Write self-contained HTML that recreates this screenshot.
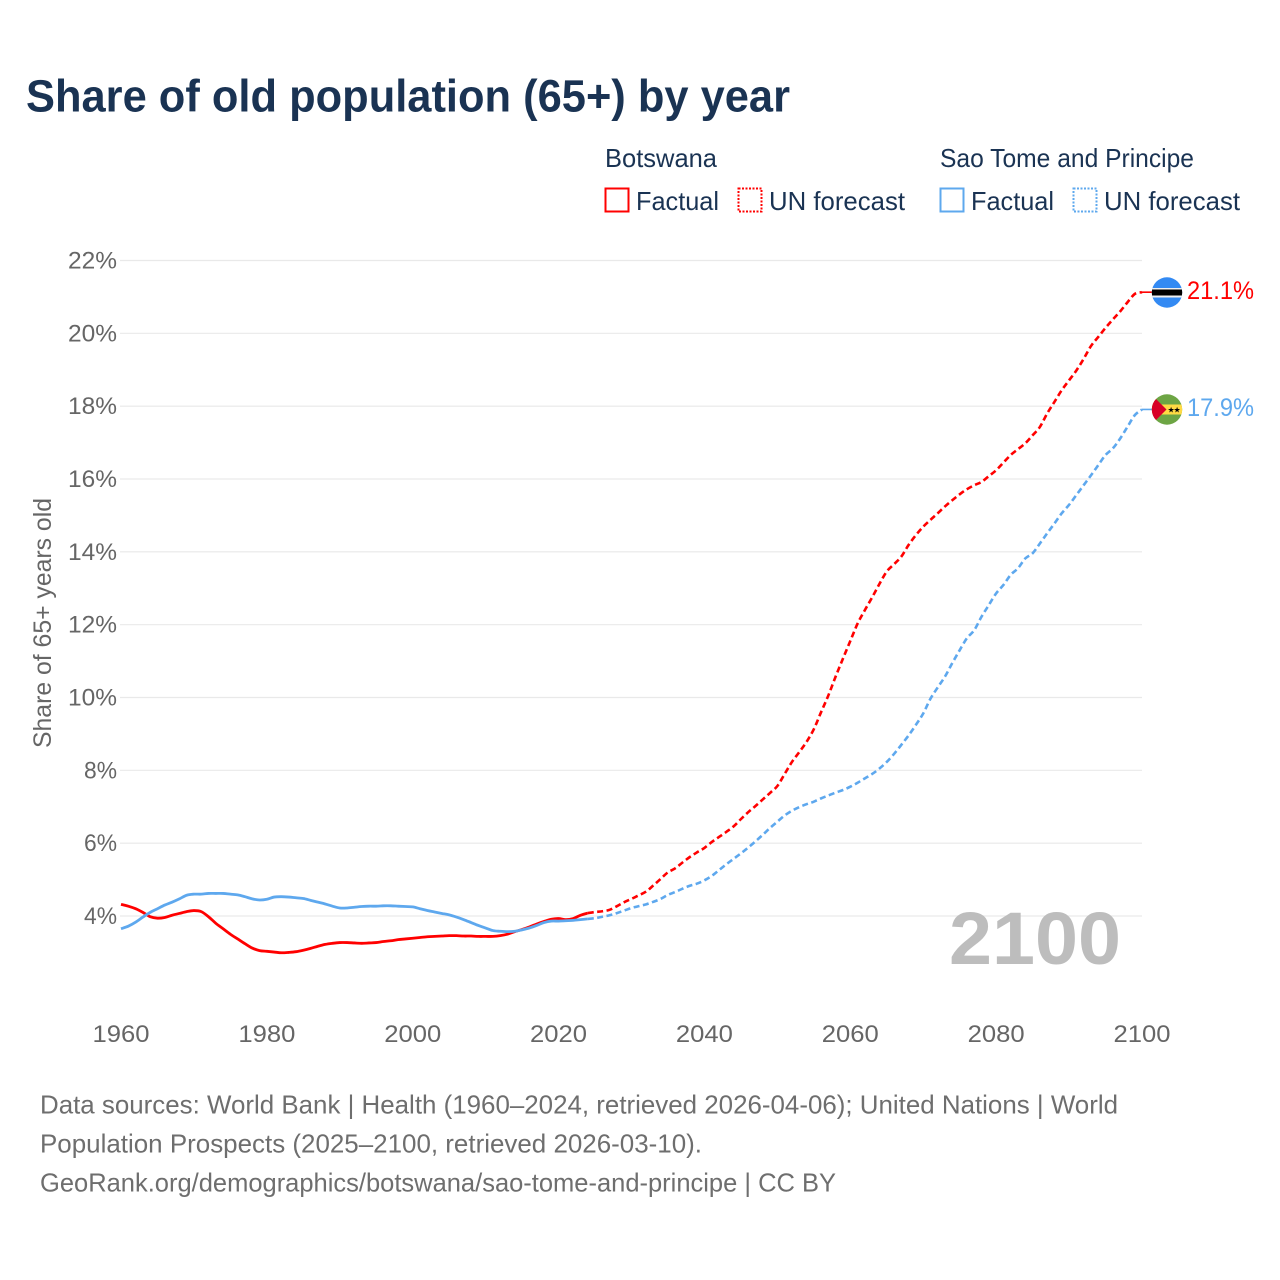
<!DOCTYPE html>
<html lang="en">
<head>
<meta charset="utf-8">
<title>Share of old population (65+) by year</title>
<style>
html,body{margin:0;padding:0;background:#fff;width:1280px;height:1280px;overflow:hidden}
svg{display:block}
text{font-family:"Liberation Sans",sans-serif}
</style>
</head>
<body>
<svg id="chart" xmlns="http://www.w3.org/2000/svg" width="1280" height="1280" viewBox="0 0 1280 1280">
  <rect width="1280" height="1280" fill="#fff"/>
  <text x="26" y="111.5" font-size="45" font-weight="700" fill="#1a3353" textLength="764" lengthAdjust="spacingAndGlyphs">Share of old population (65+) by year</text>

  <g font-size="26" fill="#1a3353">
    <text x="605" y="167" textLength="112" lengthAdjust="spacingAndGlyphs">Botswana</text>
    <text x="940" y="167" textLength="254" lengthAdjust="spacingAndGlyphs">Sao Tome and Principe</text>
    <rect x="605.5" y="188.5" width="23" height="23" fill="none" stroke="#ff0000" stroke-width="2"/>
    <text x="636" y="210" textLength="83" lengthAdjust="spacingAndGlyphs">Factual</text>
    <rect x="738.5" y="188.5" width="23" height="23" fill="none" stroke="#ff0000" stroke-width="2" stroke-dasharray="2 1.5"/>
    <text x="769" y="210" textLength="136" lengthAdjust="spacingAndGlyphs">UN forecast</text>
    <rect x="940.5" y="188.5" width="23" height="23" fill="none" stroke="#5ea8ee" stroke-width="2"/>
    <text x="971" y="210" textLength="83" lengthAdjust="spacingAndGlyphs">Factual</text>
    <rect x="1073.5" y="188.5" width="23" height="23" fill="none" stroke="#5ea8ee" stroke-width="2" stroke-dasharray="2 1.5"/>
    <text x="1104" y="210" textLength="136" lengthAdjust="spacingAndGlyphs">UN forecast</text>
  </g>

  <g id="grid"></g>
  <g id="yticks"></g>
  <g id="xticks"></g>

  <text transform="translate(51,748) rotate(-90)" font-size="25" fill="#666" textLength="250" lengthAdjust="spacingAndGlyphs">Share of 65+ years old</text>
  <text x="949" y="964" font-size="74" font-weight="700" fill="#bdbdbd" textLength="172" lengthAdjust="spacingAndGlyphs">2100</text>

  <g id="series"></g>

  <g>
    <clipPath id="clip-bw"><circle cx="1167" cy="292.5" r="15.2"/></clipPath>
    <g clip-path="url(#clip-bw)">
      <rect x="1151" y="277" width="32" height="32" fill="#338af3"/>
      <rect x="1151" y="288" width="32" height="9.5" fill="#f0f0f0"/>
      <rect x="1151" y="289.5" width="32" height="6" fill="#000"/>
    </g>
  </g>
  <g>
    <clipPath id="clip-st"><circle cx="1167" cy="409.5" r="15.2"/></clipPath>
    <g clip-path="url(#clip-st)">
      <rect x="1151" y="394" width="32" height="32" fill="#6da544"/>
      <rect x="1151" y="404.5" width="32" height="10" fill="#ffda44"/>
      <polygon points="1151,394 1151,425 1166.5,409.5" fill="#d80027"/>
      <text x="1167.5" y="412.5" font-size="8" fill="#000">★</text>
      <text x="1173.5" y="412.5" font-size="8" fill="#000">★</text>
    </g>
  </g>
  <text x="1187" y="299" font-size="25" fill="#ff0000" textLength="67" lengthAdjust="spacingAndGlyphs">21.1%</text>
  <text x="1187" y="416" font-size="25" fill="#5ea8ee" textLength="67" lengthAdjust="spacingAndGlyphs">17.9%</text>

  <g font-size="26" fill="#6e6e6e">
    <text x="40" y="1113.5" textLength="1078" lengthAdjust="spacingAndGlyphs">Data sources: World Bank | Health (1960–2024, retrieved 2026-04-06); United Nations | World</text>
    <text x="40" y="1152.5" textLength="662" lengthAdjust="spacingAndGlyphs">Population Prospects (2025–2100, retrieved 2026-03-10).</text>
    <text x="40" y="1191.5" textLength="796" lengthAdjust="spacingAndGlyphs">GeoRank.org/demographics/botswana/sao-tome-and-principe | CC BY</text>
  </g>
</svg>
<script>
const yTickValues = [4, 6, 8, 10, 12, 14, 16, 18, 20, 22];
const xTickYears = [1960, 1980, 2000, 2020, 2040, 2060, 2080, 2100];
const factualStartYear = 1960;
const forecastStartYear = 2024;
const botswanaFactual = [4.32,4.27,4.2,4.1,3.98,3.94,3.96,4.02,4.07,4.12,4.15,4.12,3.98,3.8,3.65,3.5,3.37,3.24,3.12,3.05,3.03,3.01,2.99,3,3.02,3.06,3.11,3.17,3.22,3.25,3.27,3.27,3.26,3.25,3.26,3.27,3.3,3.32,3.35,3.37,3.39,3.41,3.43,3.44,3.45,3.46,3.46,3.45,3.45,3.44,3.44,3.44,3.46,3.5,3.57,3.63,3.7,3.78,3.85,3.91,3.93,3.9,3.93,4.02,4.08];
const saoTomeFactual = [3.65,3.72,3.83,3.97,4.1,4.2,4.3,4.38,4.47,4.57,4.6,4.6,4.62,4.62,4.62,4.6,4.58,4.53,4.47,4.44,4.46,4.52,4.53,4.52,4.5,4.48,4.43,4.38,4.33,4.27,4.22,4.22,4.24,4.26,4.27,4.27,4.28,4.28,4.27,4.26,4.25,4.2,4.15,4.11,4.07,4.03,3.97,3.9,3.82,3.74,3.67,3.6,3.58,3.57,3.58,3.62,3.67,3.74,3.82,3.86,3.86,3.87,3.88,3.9,3.92];
const botswanaForecast = [4.08,4.11,4.13,4.17,4.27,4.38,4.47,4.57,4.67,4.84,5.02,5.2,5.31,5.47,5.62,5.75,5.87,6.03,6.17,6.31,6.46,6.66,6.85,7.02,7.2,7.38,7.57,7.9,8.23,8.5,8.78,9.13,9.6,10.06,10.58,11.07,11.55,12.03,12.4,12.75,13.12,13.46,13.66,13.87,14.19,14.46,14.69,14.88,15.06,15.25,15.42,15.58,15.72,15.83,15.92,16.08,16.24,16.45,16.66,16.82,16.98,17.2,17.43,17.8,18.12,18.44,18.71,18.98,19.3,19.65,19.9,20.15,20.38,20.6,20.85,21.08,21.13];
const saoTomeForecast = [3.92,3.94,3.98,4.02,4.08,4.15,4.22,4.27,4.32,4.39,4.47,4.58,4.66,4.75,4.83,4.89,4.98,5.1,5.26,5.42,5.57,5.72,5.88,6.05,6.23,6.42,6.59,6.76,6.89,6.99,7.07,7.14,7.23,7.31,7.39,7.46,7.55,7.66,7.78,7.9,8.05,8.23,8.45,8.7,8.96,9.25,9.56,9.97,10.28,10.58,10.95,11.3,11.63,11.85,12.22,12.54,12.86,13.09,13.37,13.55,13.82,13.96,14.23,14.51,14.78,15.06,15.29,15.56,15.83,16.1,16.38,16.66,16.84,17.11,17.43,17.75,17.91];

const SVG_NS = 'http://www.w3.org/2000/svg';
const xScale = yr => 121 + (yr - 1960) * (1142 - 121) / 140;
const yScale = v => 916 - (v - 4) * (916 - 260.5) / 18;

function linePath(values, startYear) {
  const pts = values.map((v, i) => [xScale(startYear + i), yScale(v)]);
  let d = 'M' + pts[0][0].toFixed(2) + ' ' + pts[0][1].toFixed(2);
  for (let i = 0; i < pts.length - 1; i++) {
    const p0 = pts[Math.max(i - 1, 0)];
    const p1 = pts[i];
    const p2 = pts[i + 1];
    const p3 = pts[Math.min(i + 2, pts.length - 1)];
    const c1x = p1[0] + (p2[0] - p0[0]) / 6;
    const c1y = p1[1] + (p2[1] - p0[1]) / 6;
    const c2x = p2[0] - (p3[0] - p1[0]) / 6;
    const c2y = p2[1] - (p3[1] - p1[1]) / 6;
    d += ' C' + c1x.toFixed(2) + ' ' + c1y.toFixed(2) + ' ' + c2x.toFixed(2) + ' ' + c2y.toFixed(2) + ' ' + p2[0].toFixed(2) + ' ' + p2[1].toFixed(2);
  }
  return d;
}

const gridG = document.getElementById('grid');
const yG = document.getElementById('yticks');
yTickValues.forEach(v => {
  const l = document.createElementNS(SVG_NS, 'line');
  
  
  l.setAttribute('x1', 120);
  l.setAttribute('x2', 1142);
  l.setAttribute('y1', yScale(v));
  l.setAttribute('y2', yScale(v));
  l.setAttribute('stroke', '#e9e9e9');
  l.setAttribute('stroke-width', 1.2);
  gridG.appendChild(l);

  const t = document.createElementNS(SVG_NS, 'text');
  
  
  t.setAttribute('x', 117);
  t.setAttribute('y', yScale(v) + 8);
  t.setAttribute('text-anchor', 'end');
  t.setAttribute('font-size', 24.5);
  t.setAttribute('fill', '#666');
  t.setAttribute('textLength', String(v).length > 1 ? 49 : 33);
  t.setAttribute('lengthAdjust', 'spacingAndGlyphs');
  t.textContent = v + '%';
  yG.appendChild(t);
});

const xG = document.getElementById('xticks');
xTickYears.forEach(yr => {
  const t = document.createElementNS(SVG_NS, 'text');
  
  
  t.setAttribute('x', xScale(yr));
  t.setAttribute('y', 1042);
  t.setAttribute('text-anchor', 'middle');
  t.setAttribute('font-size', 24.5);
  t.setAttribute('fill', '#666');
  t.setAttribute('textLength', 57);
  t.setAttribute('lengthAdjust', 'spacingAndGlyphs');
  t.textContent = yr;
  xG.appendChild(t);
});

const seriesG = document.getElementById('series');
function addPath(d, color, width, dash, name) {
  const p = document.createElementNS(SVG_NS, 'path');
  
  
  p.setAttribute('d', d);
  p.setAttribute('fill', 'none');
  p.setAttribute('stroke', color);
  p.setAttribute('stroke-width', width);
  p.setAttribute('stroke-linejoin', 'round');
  if (dash) p.setAttribute('stroke-dasharray', dash);
  seriesG.appendChild(p);
}
const RED = '#ff0000';
const BLUE = '#5ea8ee';
addPath(linePath(botswanaForecast, forecastStartYear), RED, 2.6, '6 3.5', 'line-botswana-forecast');
addPath(linePath(saoTomeForecast, forecastStartYear), BLUE, 2.6, '6 3.5', 'line-sao-tome-forecast');
addPath(linePath(botswanaFactual, factualStartYear), RED, 2.8, '', 'line-botswana-factual');
addPath(linePath(saoTomeFactual, factualStartYear), BLUE, 2.8, '', 'line-sao-tome-factual');

const bwEndY = yScale(botswanaForecast[botswanaForecast.length - 1]);
const stEndY = yScale(saoTomeForecast[saoTomeForecast.length - 1]);
addPath('M' + xScale(2100) + ' ' + bwEndY + ' L1152 ' + bwEndY, RED, 1.6, '', 'connector-botswana');
addPath('M' + xScale(2100) + ' ' + stEndY + ' L1152 ' + stEndY, BLUE, 1.6, '', 'connector-sao-tome');
</script>
</body>
</html>
